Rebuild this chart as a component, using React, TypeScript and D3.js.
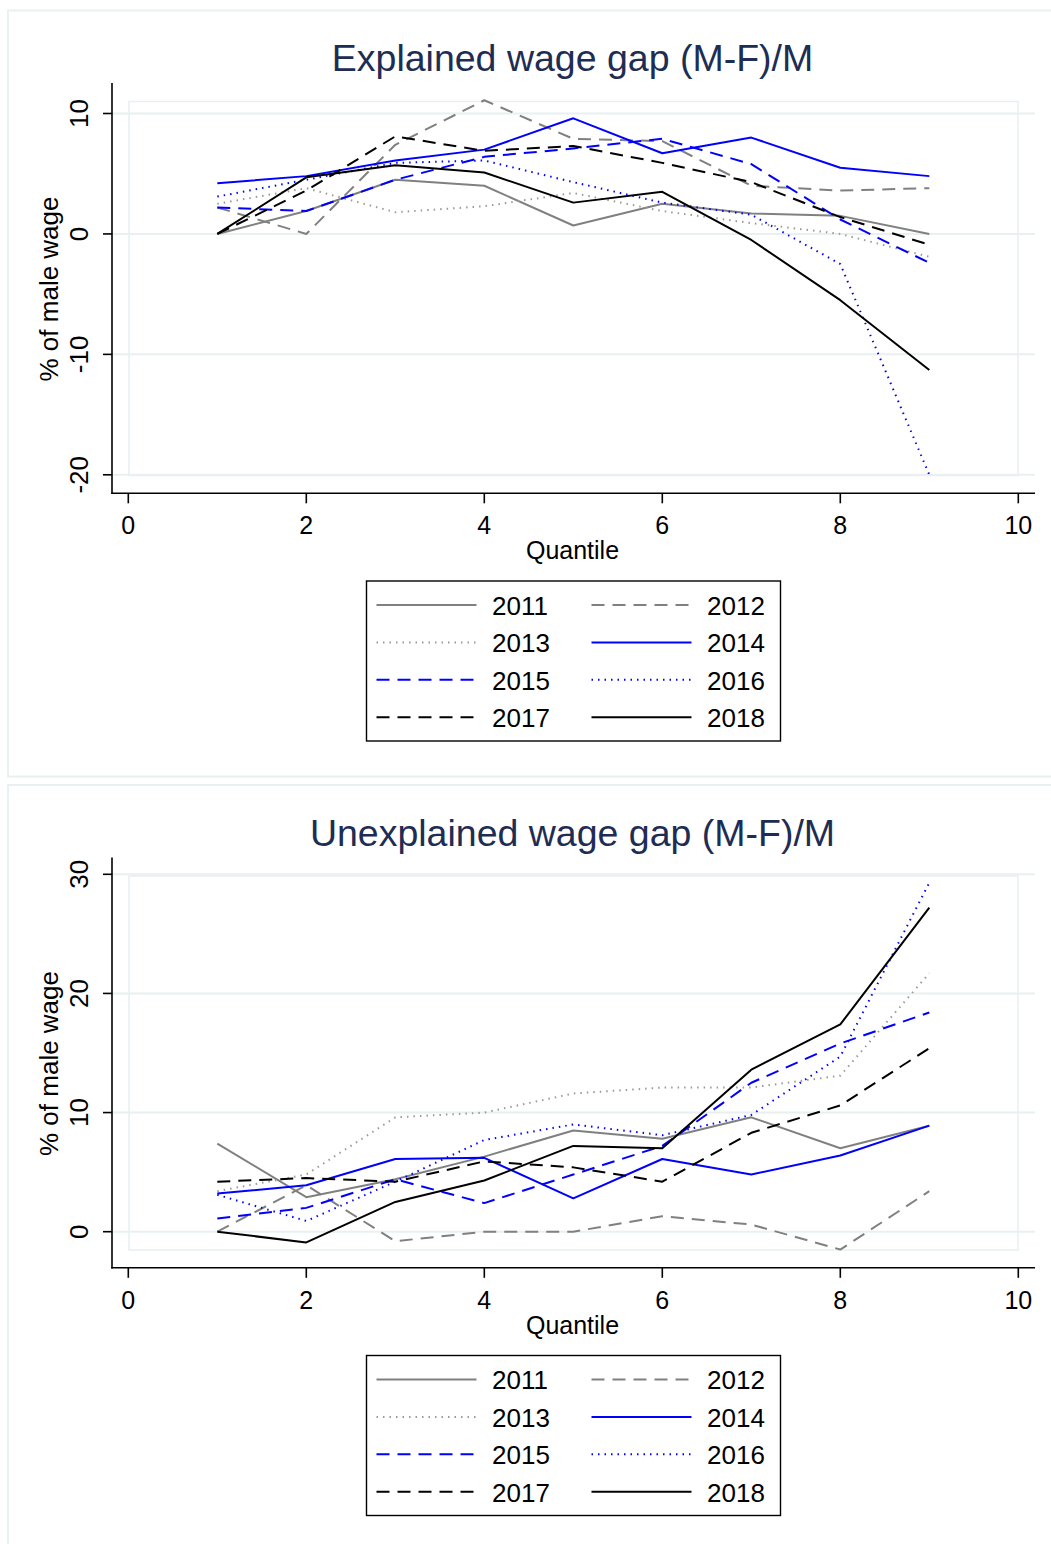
import * as d3 from "d3";

// Quantile positions and series years
const quantiles = [1, 2, 3, 4, 5, 6, 7, 8, 9];
const years = ["2011", "2012", "2013", "2014", "2015", "2016", "2017", "2018"];

// Explained wage gap (M-F)/M, % of male wage
const explained2011 = [0, 1.9, 4.5, 4.0, 0.7, 2.5, 1.7, 1.5, 0];
const explained2012 = [2.2, 0, 7.4, 11.1, 7.9, 7.7, 4.0, 3.6, 3.8];
const explained2013 = [2.5, 3.8, 1.8, 2.3, 3.4, 1.9, 0.9, 0.0, -1.9];
const explained2014 = [4.2, 4.8, 6.1, 7.0, 9.6, 6.7, 8.0, 5.5, 4.8];
const explained2015 = [2.2, 1.9, 4.5, 6.4, 7.1, 7.9, 5.8, 1.2, -2.4];
const explained2016 = [3.1, 4.5, 5.9, 6.1, 4.3, 2.6, 1.6, -2.5, -20];
const explained2017 = [0, 3.6, 8.1, 6.9, 7.3, 5.9, 4.3, 1.4, -0.9];
const explained2018 = [0, 4.7, 5.7, 5.1, 2.6, 3.5, -0.5, -5.5, -11.3];

// Unexplained wage gap (M-F)/M, % of male wage
const unexplained2011 = [7.4, 2.9, 4.4, 6.3, 8.5, 7.8, 9.6, 7.0, 8.9];
const unexplained2012 = [0, 3.9, -0.8, 0, 0, 1.3, 0.6, -1.5, 3.4];
const unexplained2013 = [3.4, 4.8, 9.6, 10.0, 11.6, 12.1, 12.1, 13.1, 21.7];
const unexplained2014 = [3.2, 3.9, 6.1, 6.2, 2.8, 6.1, 4.8, 6.4, 8.9];
const unexplained2015 = [1.1, 2.0, 4.4, 2.4, 4.8, 7.2, 12.5, 15.8, 18.4];
const unexplained2016 = [3.1, 0.9, 4.2, 7.7, 9.0, 8.1, 9.8, 14.7, 29.3];
const unexplained2017 = [4.2, 4.5, 4.2, 5.9, 5.4, 4.2, 8.3, 10.6, 15.4];
const unexplained2018 = [0, -0.9, 2.5, 4.3, 7.2, 7.0, 13.6, 17.4, 27.2];

const xTicks = [0, 2, 4, 6, 8, 10];
const explainedTicks = [-20, -10, 0, 10];
const unexplainedTicks = [0, 10, 20, 30];

const explainedSeries = [
  explained2011, explained2012, explained2013, explained2014,
  explained2015, explained2016, explained2017, explained2018,
];
const unexplainedSeries = [
  unexplained2011, unexplained2012, unexplained2013, unexplained2014,
  unexplained2015, unexplained2016, unexplained2017, unexplained2018,
];

// line look per year (Stata-like)
const GRAY = "#808080";
const BLUE = "#0000ff";
const styles = [
  { color: GRAY, dash: null },
  { color: GRAY, dash: "13 8" },
  { color: "#9a9a9a", dash: "1.5 5" },
  { color: BLUE, dash: null },
  { color: BLUE, dash: "13 8" },
  { color: BLUE, dash: "1.5 5" },
  { color: "#000", dash: "13 8" },
  { color: "#000", dash: null },
];

const GRID = "#e8f0f2";
const TITLE = "#1e2d53";
const FONT = "'Liberation Sans', Arial, sans-serif";

function Panel({ top, title, series, yDomain, yRange, ticks }) {
  const x = d3.scaleLinear().domain([0, 10]).range([128.3, 1018.3]);
  const y = d3.scaleLinear().domain(yDomain).range(yRange);
  const line = d3
    .line<number>()
    .x((d, i) => x(quantiles[i]))
    .y((d) => y(d));

  const axisX = 112;
  const axisY = 493.3;
  const legendRows = [0, 1, 2, 3];

  return (
    <g transform={`translate(0,${top})`}>
      <rect x={8} y={10.5} width={1060} height={766} fill="#fff" stroke={GRID} strokeWidth={2} />
      <text x={572.5} y={71} textAnchor="middle" fontSize={37.5} fill={TITLE}>
        {title}
      </text>

      {/* plot region outline */}
      <rect x={129} y={101.5} width={889} height={374} fill="none" stroke={GRID} strokeWidth={1.5} />

      {/* grid */}
      {ticks.map((t) => (
        <line key={t} x1={axisX} x2={1035} y1={y(t)} y2={y(t)} stroke={GRID} strokeWidth={2} />
      ))}

      {/* series */}
      {series.map((vals, i) => (
        <path
          key={years[i]}
          d={line(vals)}
          fill="none"
          stroke={styles[i].color}
          strokeWidth={2}
          strokeDasharray={styles[i].dash || undefined}
          strokeLinejoin="round"
        />
      ))}

      {/* y axis */}
      <line x1={axisX} x2={axisX} y1={83} y2={axisY + 0.7} stroke="#000" strokeWidth={1.6} />
      {ticks.map((t) => (
        <g key={t}>
          <line x1={axisX - 9} x2={axisX} y1={y(t)} y2={y(t)} stroke="#000" strokeWidth={1.6} />
          <text
            transform={`translate(88,${y(t)}) rotate(-90)`}
            textAnchor="middle"
            fontSize={26}
            fill="#000"
          >
            {t}
          </text>
        </g>
      ))}
      <text
        transform={`translate(57.5,289) rotate(-90)`}
        textAnchor="middle"
        fontSize={26}
        fill="#000"
      >
        % of male wage
      </text>

      {/* x axis */}
      <line x1={axisX - 0.8} x2={1035} y1={axisY} y2={axisY} stroke="#000" strokeWidth={1.6} />
      {xTicks.map((t) => (
        <g key={t}>
          <line x1={x(t)} x2={x(t)} y1={axisY} y2={axisY + 10} stroke="#000" strokeWidth={1.6} />
          <text x={x(t)} y={534} textAnchor="middle" fontSize={25} fill="#000">
            {t}
          </text>
        </g>
      ))}
      <text x={572.5} y={559} textAnchor="middle" fontSize={25} fill="#000">
        Quantile
      </text>

      {/* legend */}
      <rect x={366.5} y={581} width={414} height={160} fill="#fff" stroke="#000" strokeWidth={1.4} />
      {years.map((yr, i) => {
        const col = i % 2;
        const row = legendRows[Math.floor(i / 2)];
        const cy = 605 + row * 37.4;
        const lx = col === 0 ? 376.5 : 591.5;
        return (
          <g key={yr}>
            <line
              x1={lx}
              x2={lx + 100}
              y1={cy}
              y2={cy}
              stroke={styles[i].color}
              strokeWidth={2}
              strokeDasharray={styles[i].dash || undefined}
            />
            <text x={lx + 115.5} y={cy + 9.8} fontSize={26} fill="#000">
              {yr}
            </text>
          </g>
        );
      })}
    </g>
  );
}

export default function App() {
  return (
    <>
      <style>{`body{margin:0;overflow:hidden}`}</style>
      <svg
        width={1051}
        height={1544}
        viewBox="0 0 1051 1544"
        style={{ display: "block", fontFamily: FONT, background: "#fff" }}
      >
        <Panel
          top={0}
          title="Explained wage gap (M-F)/M"
          series={explainedSeries}
          yDomain={[-20, 10]}
          yRange={[474.8, 113.5]}
          ticks={explainedTicks}
        />
        <Panel
          top={774.5}
          title="Unexplained wage gap (M-F)/M"
          series={unexplainedSeries}
          yDomain={[0, 30]}
          yRange={[457.2, 99.8]}
          ticks={unexplainedTicks}
        />
      </svg>
    </>
  );
}
